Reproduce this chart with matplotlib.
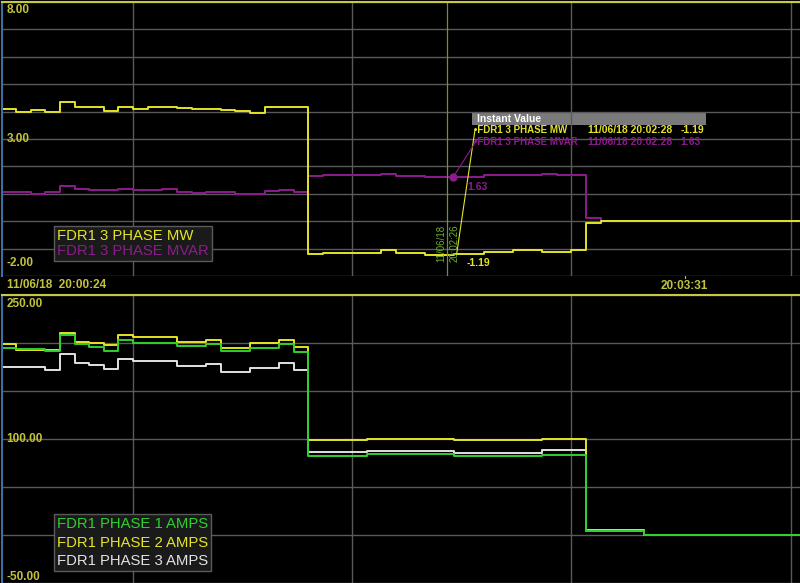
import matplotlib
matplotlib.use("Agg")
import matplotlib.pyplot as plt
from matplotlib.lines import Line2D

# time axis: seconds after 11/06/18 20:00:24
T_END = 218.6
minute_marks = [36, 96, 156, 216]          # 20:01:00 ... 20:04:00
cursor_t = 122                             # 20:02:26

# top panel (MW / MVAR), step breakpoints
mw_t = [0, 4, 8, 12, 16, 20, 28, 32, 36, 40, 48, 52, 60, 64, 68, 72, 76, 80,
        84, 88, 104, 108, 116, 124, 132, 140, 148, 156, 160, 164, T_END]
mw_v = [4.11, 4.00, 4.05, 4.00, 4.34, 4.16, 4.03, 4.18, 4.10, 4.16, 4.13, 4.09,
        4.05, 4.01, 3.96, 4.15, 4.18, 4.15,
        -1.21, -1.16, -1.04, -1.16, -1.24, -1.19, -1.11, -1.04, -1.11, -1.04,
        -0.07, 0.02, 0.02]

mvar_t = [0, 8, 12, 16, 20, 24, 32, 36, 40, 44, 48, 52, 56, 64, 72, 76, 80,
          84, 88, 104, 108, 116, 132, 140, 148, 152, 160, 164, T_END]
mvar_v = [1.05, 1.01, 1.07, 1.28, 1.18, 1.13, 1.16, 1.15, 1.13, 1.16, 1.08,
          1.02, 1.06, 1.00, 1.11, 1.13, 1.07,
          1.66, 1.68, 1.71, 1.66, 1.63, 1.69, 1.68, 1.73, 1.68, 0.10, 0.02, 0.02]

# bottom panel (phase amps)
amp_t = [0, 4, 12, 16, 20, 24, 28, 32, 36, 48, 56, 60, 68, 76, 80,
         84, 100, 124, 148, 160, 176, T_END]
ph1_v = [195.2, 193.5, 191.8, 208.0, 198.7, 195.6, 191.8, 202.7, 200.5, 197.2,
         199.0, 191.8, 194.5, 199.0, 190.4, 82.4, 84.5, 82.4, 83.5, 4.5, 0.0, 0.0]
ph2_v = [199.3, 192.8, 192.8, 210.7, 201.0, 199.7, 197.6, 208.3, 206.0, 201.3,
         202.8, 195.2, 199.7, 203.4, 195.5, 99.3, 100.3, 98.6, 99.6, 4.8, 0.2, 0.2]
ph3_v = [175.3, 175.3, 171.5, 188.7, 179.0, 176.6, 173.2, 183.2, 181.5, 176.3,
         177.7, 170.1, 173.9, 179.4, 171.5, 86.3, 87.6, 85.9, 88.3, 4.6, 0.1, 0.1]

YEL = "#e4e428"
PUR = "#8c1c8c"
GRN = "#2ed02e"
WHT = "#e2e2e2"
LBL = "#c2c23c"
GRID = "#5a5a5a"

plt.rcParams["font.family"] = ["Liberation Sans", "DejaVu Sans"]

fig = plt.figure(figsize=(8, 5.83), dpi=100, facecolor="black")
ax1 = fig.add_axes([1.6 / 800, 1 - 276 / 583, 798.4 / 800, 274 / 583])
ax2 = fig.add_axes([1.6 / 800, 0, 798.4 / 800, 288 / 583])

for ax in (ax1, ax2):
    ax.set_facecolor("black")
    ax.set_xlim(0, T_END)
    ax.set_xticks(minute_marks)
    ax.grid(True, color=GRID, lw=1)
    ax.tick_params(length=0, labelbottom=False, labelleft=False)
    for s in ax.spines.values():
        s.set_visible(False)
    ax.spines["top"].set_visible(True)
    ax.spines["top"].set_color("#c8c846")
    ax.spines["top"].set_linewidth(1.5)
    ax.spines["left"].set_visible(True)
    ax.spines["left"].set_color("#3d6fa0")
    ax.spines["left"].set_linewidth(1.5)

ax1.set_ylim(-2, 8)
ax1.set_yticks(range(-2, 9))
ax2.set_ylim(-46.9, 250)
ax2.set_yticks(range(-50, 251, 50))

# series
ax1.plot(mvar_t, mvar_v, drawstyle="steps-post", color=PUR, lw=1.4)
ax1.plot(mw_t, mw_v, drawstyle="steps-post", color=YEL, lw=1.4)

ax2.plot(amp_t, ph3_v, drawstyle="steps-post", color=WHT, lw=1.4)
ax2.plot(amp_t, ph2_v, drawstyle="steps-post", color=YEL, lw=1.4)
ax2.plot(amp_t, ph1_v, drawstyle="steps-post", color=GRN, lw=1.4)

# y labels inside the plot
tr1 = ax1.get_yaxis_transform()
ax1.text(0.006, 7.93, "8.00", transform=tr1, color=LBL, fontsize=8.5, fontweight="bold", va="top")
ax1.text(0.006, 3.0, "3.00", transform=tr1, color=LBL, fontsize=8.5, fontweight="bold", va="center")
ax1.text(0.006, -1.75, "-2.00", transform=tr1, color=LBL, fontsize=8.5, fontweight="bold", va="bottom")
tr2 = ax2.get_yaxis_transform()
ax2.text(0.006, 247, "250.00", transform=tr2, color=LBL, fontsize=8.5, fontweight="bold", va="top")
ax2.text(0.006, 100, "100.00", transform=tr2, color=LBL, fontsize=8.5, fontweight="bold", va="center")
ax2.text(0.006, -44, "-50.00", transform=tr2, color=LBL, fontsize=8.5, fontweight="bold", va="center")

# time labels under the top panel
ax1.text(1.6, -2.12, "11/06/18  20:00:24", color=LBL, fontsize=8.5, fontweight="bold",
         va="top", ha="left", clip_on=False)
ax1.text(187, -2.15, "20:03:31", color=LBL, fontsize=8.5, fontweight="bold",
         va="top", ha="center", clip_on=False)
ax1.plot([187, 187], [-2, -2.08], color=LBL, lw=0.8, clip_on=False)

# cursor
ax1.axvline(cursor_t, color="#5f9a30", lw=0.9)
ax1.text(120.4, -1.5, "11/06/18", rotation=90, color="#6fb030", fontsize=7,
         ha="center", va="bottom")
ax1.text(124.1, -1.5, "20:02:26", rotation=90, color="#6fb030", fontsize=7,
         ha="center", va="bottom")

# instant value tooltip
ax1.plot([124.6, 129.6], [-1.19, 3.33], color=YEL, lw=0.8)
ax1.plot([123.7, 130.1], [1.62, 2.96], color=PUR, lw=0.8)
ax1.plot([123.7], [1.62], "o", color=PUR, ms=5)
ax1.text(127.2, -1.53, "-1.19", color=YEL, fontsize=7.5, fontweight="bold", va="center")
ax1.text(127.4, 1.26, "1.63", color=PUR, fontsize=7.5, fontweight="bold", va="center")

ax1.fill_between([128.8, 192.9], 3.51, 3.95, color="#7a7a7a", lw=0)
ax1.text(130.2, 3.72, "Instant Value", color="white", fontsize=7.5, fontweight="bold", va="center")
ax1.text(129.4, 3.33, "\u2022FDR1 3 PHASE MW", color=YEL, fontsize=7, fontweight="bold", va="center")
ax1.text(160.6, 3.33, "11/06/18 20:02:28", color=YEL, fontsize=7.5, fontweight="bold", va="center")
ax1.text(185.8, 3.33, "-1.19", color=YEL, fontsize=7.5, fontweight="bold", va="center")
ax1.text(129.4, 2.89, "\u2022FDR1 3 PHASE MVAR", color=PUR, fontsize=7, fontweight="bold", va="center")
ax1.text(160.6, 2.89, "11/06/18 20:02:28", color=PUR, fontsize=7.5, fontweight="bold", va="center")
ax1.text(185.8, 2.89, "1.63", color=PUR, fontsize=7.5, fontweight="bold", va="center")

# legends
def legend_box(ax, names, colors, anchor, spacing):
    handles = [Line2D([], [], color=c, lw=0) for c in colors]
    leg = ax.legend(handles, names, loc="lower left", bbox_to_anchor=anchor,
                    handlelength=0, handletextpad=0, fontsize=10.7,
                    labelspacing=spacing, borderpad=0.2, borderaxespad=0,
                    fancybox=False, framealpha=1, facecolor="#1a1a1a",
                    edgecolor="#5a5a5a")
    for txt, c in zip(leg.get_texts(), colors):
        txt.set_color(c)
    leg.get_frame().set_linewidth(1)
    return leg

legend_box(ax1, ["FDR1 3 PHASE MW", "FDR1 3 PHASE MVAR"], [YEL, PUR],
           (0.0656, 0.0547), 0.1)
legend_box(ax2, ["FDR1 PHASE 1 AMPS", "FDR1 PHASE 2 AMPS", "FDR1 PHASE 3 AMPS"],
           [GRN, YEL, WHT], (0.0656, 0.0417), 0.3)

fig.savefig("out.png", dpi=100, facecolor="black")
